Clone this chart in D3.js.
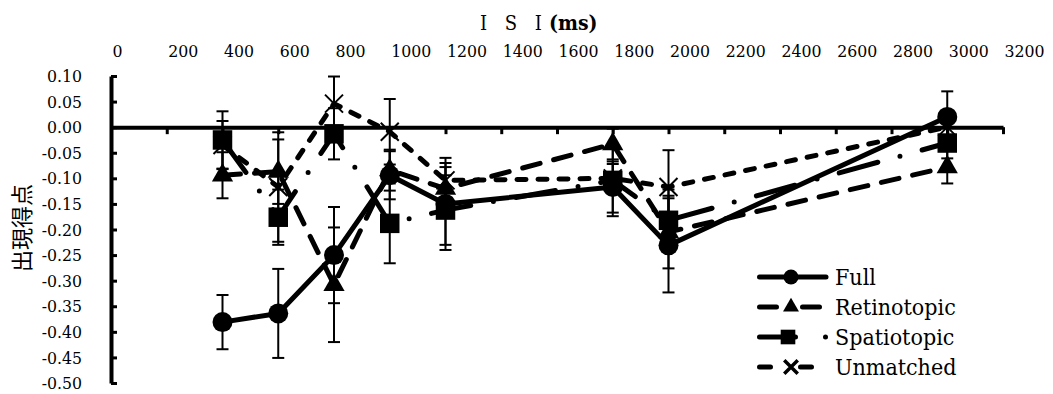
<!DOCTYPE html>
<html>
<head>
<meta charset="utf-8">
<script src="https://cdn.jsdelivr.net/npm/d3@7"></script>
<style>
  html, body { margin: 0; padding: 0; background: #fff; }
  svg { display: block; }
</style>
</head>
<body>
<div id="chart"></div>
<script>
// ---- data ----
const isi = [400, 600, 800, 1000, 1200, 1800, 2000, 3000];
const seriesNames = ["Full", "Retinotopic", "Spatiotopic", "Unmatched"];
const fullVals      = [-0.381, -0.364, -0.250, -0.094, -0.150, -0.117, -0.231, 0.020];
const fullErr       = [0.053, 0.087, 0.094, 0.047, 0.090, 0.050, 0.092, 0.050];
const retinoVals    = [-0.094, -0.087, -0.308, -0.084, -0.120, -0.033, -0.205, -0.078];
const retinoErr     = [0.045, 0.063, 0.112, 0.040, 0.042, 0.030, 0.071, 0.032];
const spatioVals    = [-0.025, -0.176, -0.013, -0.188, -0.162, -0.104, -0.182, -0.031];
const spatioErr     = [0.056, 0.054, 0.050, 0.078, 0.068, 0.070, 0.060, 0.030];
const unmatchedVals = [-0.035, -0.117, 0.046, -0.009, -0.104, -0.100, -0.117, 0.000];
const unmatchedErr  = [0.047, 0.107, 0.053, 0.064, 0.034, 0.028, 0.072, 0.030];
const xTicks = [0, 200, 400, 600, 800, 1000, 1200, 1400, 1600, 1800, 2000, 2200, 2400, 2600, 2800, 3000, 3200];
const yTicks = [0.10, 0.05, 0.00, -0.05, -0.10, -0.15, -0.20, -0.25, -0.30, -0.35, -0.40, -0.45, -0.50];
const xTitle = "I S I";
const xTitleUnit = "(ms)";
const yTitle = "出現得点";

// ---- styles ----
const styles = [
  { marker: "circle",   dash: null,           legendDash: null },
  { marker: "triangle", dash: "18 14",        legendDash: "17 26" },
  { marker: "square",   dash: "40 23 0 23",   legendDash: "36 30 0 30" },
  { marker: "x",        dash: "9 12",         legendDash: "11 30" }
];
const valsList = [fullVals, retinoVals, spatioVals, unmatchedVals];
const errList = [fullErr, retinoErr, spatioErr, unmatchedErr];
const series = seriesNames.map((name, i) => ({
  name, style: styles[i],
  points: isi.map((x, j) => ({ x, y: valsList[i][j], e: errList[i][j] }))
}));

const W = 1053, H = 394;
const svg = d3.select("#chart").append("svg").attr("width", W).attr("height", H);

const x = d3.scaleLinear().domain([0, 3200]).range([111, 1003]);
const y = d3.scaleLinear().domain([-0.5, 0.1]).range([383, 76]);

const serif = '"DejaVu Serif Condensed", "Liberation Serif", serif';

// x axis line with ticks at y=0
const xAxisG = svg.append("g").attr("transform", `translate(0,${y(0)})`)
  .call(d3.axisBottom(x).tickValues(xTicks).tickSizeInner(7).tickSizeOuter(0).tickFormat(""));
xAxisG.select(".domain").attr("stroke", "#000").attr("stroke-width", 4);
xAxisG.selectAll(".tick line").attr("stroke", "#000").attr("stroke-width", 3);

// x tick labels on top
const xLab = svg.append("g").attr("transform", "translate(0,57)")
  .call(d3.axisTop(x).tickValues(xTicks).tickSize(0).tickPadding(0).tickFormat(d => String(d)));
xLab.select(".domain").remove();
xLab.selectAll(".tick text")
  .attr("text-anchor", "start").attr("dx", 1).attr("fill", "#000")
  .style("font-family", serif).style("font-size", "17.5px");

// y axis
const yAxisG = svg.append("g").attr("transform", `translate(${x(0)},0)`)
  .call(d3.axisLeft(y).tickValues(yTicks).tickSizeInner(-6).tickSizeOuter(0).tickPadding(29)
    .tickFormat(d => (Math.abs(d) < 1e-9 ? 0 : d).toFixed(2)));
yAxisG.select(".domain").attr("stroke", "#000").attr("stroke-width", 4);
yAxisG.selectAll(".tick line").attr("stroke", "#000").attr("stroke-width", 3);
yAxisG.selectAll(".tick text").attr("fill", "#000")
  .style("font-family", serif).style("font-size", "17.5px");

// titles
const t = svg.append("text").attr("x", 480).attr("y", 30).attr("fill", "#000")
  .style("font-family", serif).style("font-size", "20px");
t.append("tspan").attr("letter-spacing", "6px").text(xTitle);
t.append("tspan").attr("dx", 1).style("font-weight", "bold").style("font-size", "21px").text(xTitleUnit);

svg.append("text")
  .attr("transform", `translate(30,228) rotate(-90)`)
  .attr("text-anchor", "middle").attr("fill", "#000")
  .style("font-family", '"Noto Sans CJK JP", sans-serif').style("font-size", "22px")
  .text(yTitle);

// markers
function markerPath(type, scale) {
  const s = scale || 1;
  if (type === "circle") return d3.symbol(d3.symbolCircle, Math.PI * 100 * s * s)();
  if (type === "square") return d3.symbol(d3.symbolSquare, 380 * s * s)();
  if (type === "triangle") return d3.symbol(d3.symbolTriangle, 195 * s * s)();
  const r = 9 * s;
  return `M${-r},${-r}L${r},${r}M${-r},${r}L${r},${-r}`;
}

const line = d3.line().x(d => x(d.x)).y(d => y(d.y));

// lines
series.forEach(s => {
  svg.append("path").datum(s.points)
    .attr("d", line)
    .attr("fill", "none").attr("stroke", "#000").attr("stroke-width", 5)
    .attr("stroke-linecap", "round").attr("stroke-linejoin", "round")
    .attr("stroke-dasharray", s.style.dash);
});

// error bars
series.forEach(s => {
  const g = svg.append("g").attr("stroke", "#000").attr("stroke-width", 2);
  s.points.forEach(p => {
    const cx = x(p.x), y1 = y(p.y + p.e), y2 = y(p.y - p.e);
    g.append("line").attr("x1", cx).attr("x2", cx).attr("y1", y1).attr("y2", y2);
    g.append("line").attr("x1", cx - 6).attr("x2", cx + 6).attr("y1", y1).attr("y2", y1);
    g.append("line").attr("x1", cx - 6).attr("x2", cx + 6).attr("y1", y2).attr("y2", y2);
  });
});

// markers
series.forEach(s => {
  const type = s.style.marker;
  svg.append("g").selectAll("path").data(s.points).join("path")
    .attr("transform", d => `translate(${x(d.x)},${y(d.y)})`)
    .attr("d", markerPath(type))
    .attr("fill", type === "x" ? "none" : "#000")
    .attr("stroke", "#000").attr("stroke-width", type === "x" ? 2 : 0);
});

// legend
const legend = svg.append("g").attr("transform", "translate(757,277)");
series.forEach((s, i) => {
  const gy = i * 30;
  const g = legend.append("g").attr("transform", `translate(0,${gy})`);
  g.append("line").attr("x1", 2.5).attr("x2", 69).attr("y1", 0).attr("y2", 0)
    .attr("stroke", "#000").attr("stroke-width", 5).attr("stroke-linecap", "round")
    .attr("stroke-dasharray", s.style.legendDash);
  const type = s.style.marker;
  const mx = type === "square" ? 31 : 34;
  g.append("path").attr("transform", `translate(${mx},0)`)
    .attr("d", markerPath(type, 0.75))
    .attr("fill", type === "x" ? "none" : "#000")
    .attr("stroke", "#000").attr("stroke-width", type === "x" ? 3.5 : 0);
  g.append("text").attr("x", 78).attr("y", 8.3).attr("fill", "#000")
    .style("font-family", serif).style("font-size", "23px")
    .text(s.name);
});
</script>
</body>
</html>
